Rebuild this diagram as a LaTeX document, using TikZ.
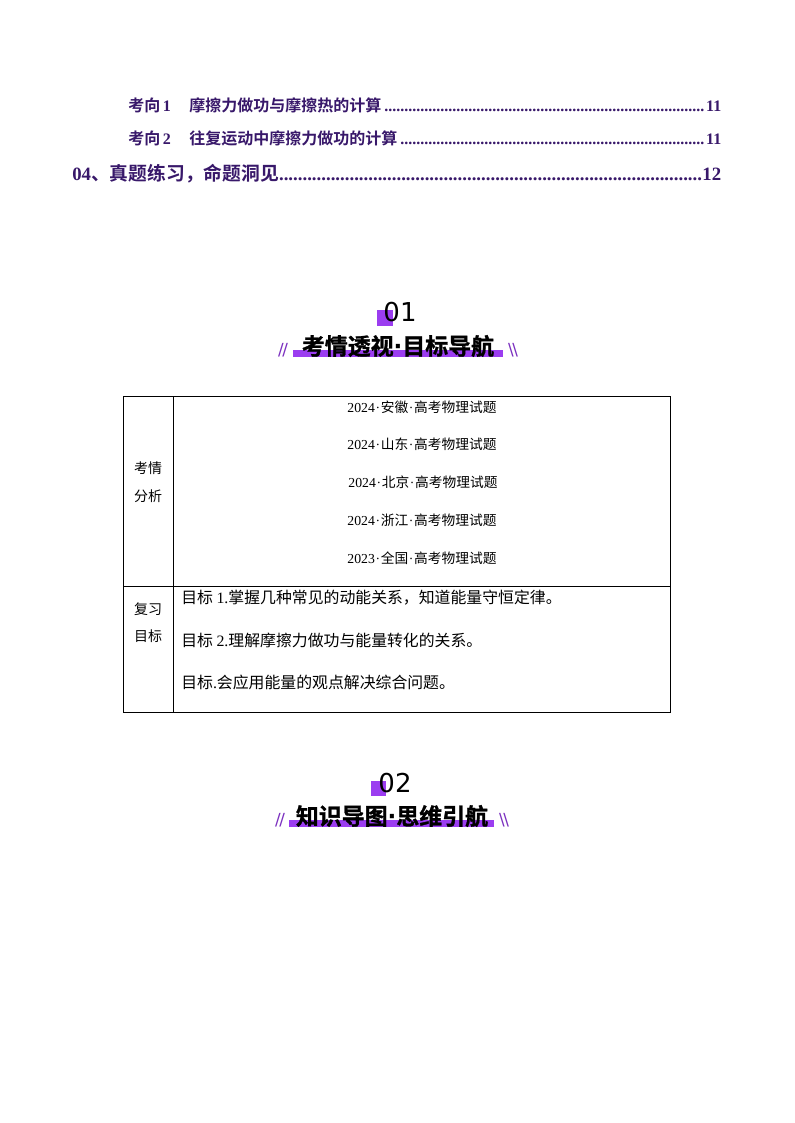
\documentclass[tikz,border=0pt]{standalone}
\usepackage{fontspec}
\setmainfont{Liberation Serif}
\newfontfamily\cjk{Noto Sans CJK SC}
\newfontfamily\cjkb{Noto Sans CJK SC Bold}
\newfontfamily\cjkh[FakeBold=1.2]{Noto Sans CJK SC Bold}
\newfontfamily\headnum{DejaVu Sans}
\newfontfamily\headdot{DejaVu Sans Bold}
\newcommand{\tn}[1]{{\rmfamily #1}}
\newcommand{\tb}[1]{{\rmfamily\bfseries #1}}
\newcommand{\tocdots}{{\rmfamily\bfseries\leaders\hbox{.}\hfill}}
\definecolor{tocpurple}{HTML}{38186A}
\definecolor{barpurple}{HTML}{9B3DF0}
\begin{document}
\begin{tikzpicture}[x=0.75pt,y=-0.75pt,
tocline/.style={anchor=west,inner sep=0pt,text=tocpurple,font=\cjkb\fontsize{12}{14}\selectfont,align=left},
tocmain/.style={anchor=west,inner sep=0pt,text=tocpurple,font=\cjkb\fontsize{14.1}{16}\selectfont,align=left},
punkt/.style={inner sep=0pt,font=\cjk\fontsize{10.3}{12}\selectfont},
goal/.style={anchor=west,inner sep=0pt,font=\cjk\fontsize{11.9}{14}\selectfont},
rowhead/.style={inner sep=0pt,font=\cjk\fontsize{10.5}{12}\selectfont},
headline/.style={inner sep=0pt,font=\cjkh\fontsize{17.2}{20}\selectfont},
headno/.style={inner sep=0pt,font=\headnum\fontsize{19.5}{22}\selectfont},
slash/.style={inner sep=0pt,text=barpurple!80!black,font=\headnum\fontsize{12.5}{15}\selectfont},
tabline/.style={draw=black,line width=0.7pt}]
\useasboundingbox (0,0) rectangle (794,1123);
\fill[white] (0,0) rectangle (794,1123);
% contents
\node [tocline,text width=593*0.75pt] (toc1) at (128,105){考向\,\tb{1}\hspace{1.15em}摩擦力做功与摩擦热的计算\tocdots\tb{11}};
\node [tocline,text width=593*0.75pt] (toc2) at (128,138){考向\,\tb{2}\hspace{1.15em}往复运动中摩擦力做功的计算\tocdots\tb{11}};
\node [tocmain,text width=649*0.75pt] (toc3) at (72,174){\tb{04}、真题练习，命题洞见\tocdots\tb{12}};
% heading 01
\fill[barpurple] (377,310) rectangle (393,326);
\fill[barpurple] (293,350) rectangle (503,357);
\node [headno] (no1) at (400,312){01};
\node [headline] (head1) at (398,346){考情透视{\headdot ·}目标导航};
\node [slash] (sl1) at (283,350){/\kern-1pt/};
\node [slash] (sr1) at (513,350){\textbackslash\kern-1pt\textbackslash};
% table
\coordinate (tl) at (123,396);
\coordinate (tm) at (173,396);
\coordinate (tr) at (670,396);
\coordinate (ml) at (123,586);
\coordinate (mr) at (670,586);
\coordinate (bl) at (123,712);
\coordinate (bm) at (173,712);
\coordinate (br) at (670,712);
\draw [tabline] (tl) -- (tr) -- (br) -- (bl) -- cycle;
\draw [tabline] (tm) -- (bm);
\draw [tabline] (ml) -- (mr);
\node [rowhead] (a1) at (148,468){考情};
\node [rowhead] (a2) at (148,496){分析};
\node [rowhead] (b1) at (148,609){复习};
\node [rowhead] (b2) at (148,636){目标};
\node [punkt] (p1) at (422,407){\tn{2024\kern.5pt·\kern.5pt}安徽\tn{\kern.5pt·\kern.5pt}高考物理试题};
\node [punkt] (p2) at (422,444){\tn{2024\kern.5pt·\kern.5pt}山东\tn{\kern.5pt·\kern.5pt}高考物理试题};
\node [punkt] (p3) at (423,482){\tn{2024\kern.5pt·\kern.5pt}北京\tn{\kern.5pt·\kern.5pt}高考物理试题};
\node [punkt] (p4) at (422,520){\tn{2024\kern.5pt·\kern.5pt}浙江\tn{\kern.5pt·\kern.5pt}高考物理试题};
\node [punkt] (p5) at (422,558){\tn{2023\kern.5pt·\kern.5pt}全国\tn{\kern.5pt·\kern.5pt}高考物理试题};
\node [goal] (g1) at (181,598){目标 \tn{1.}掌握几种常见的动能关系，知道能量守恒定律。};
\node [goal] (g2) at (181,640){目标 \tn{2.}理解摩擦力做功与能量转化的关系。};
\node [goal] (g3) at (181,682){目标\tn{.}会应用能量的观点解决综合问题。};
% heading 02
\fill[barpurple] (371,781) rectangle (386,796);
\fill[barpurple] (289,820) rectangle (494,827);
\node [headno] (no2) at (395,783){02};
\node [headline] (head2) at (392,816){知识导图{\headdot ·}思维引航};
\node [slash] (sl2) at (280,820){/\kern-1pt/};
\node [slash] (sr2) at (504,820){\textbackslash\kern-1pt\textbackslash};
\end{tikzpicture}
\end{document}
